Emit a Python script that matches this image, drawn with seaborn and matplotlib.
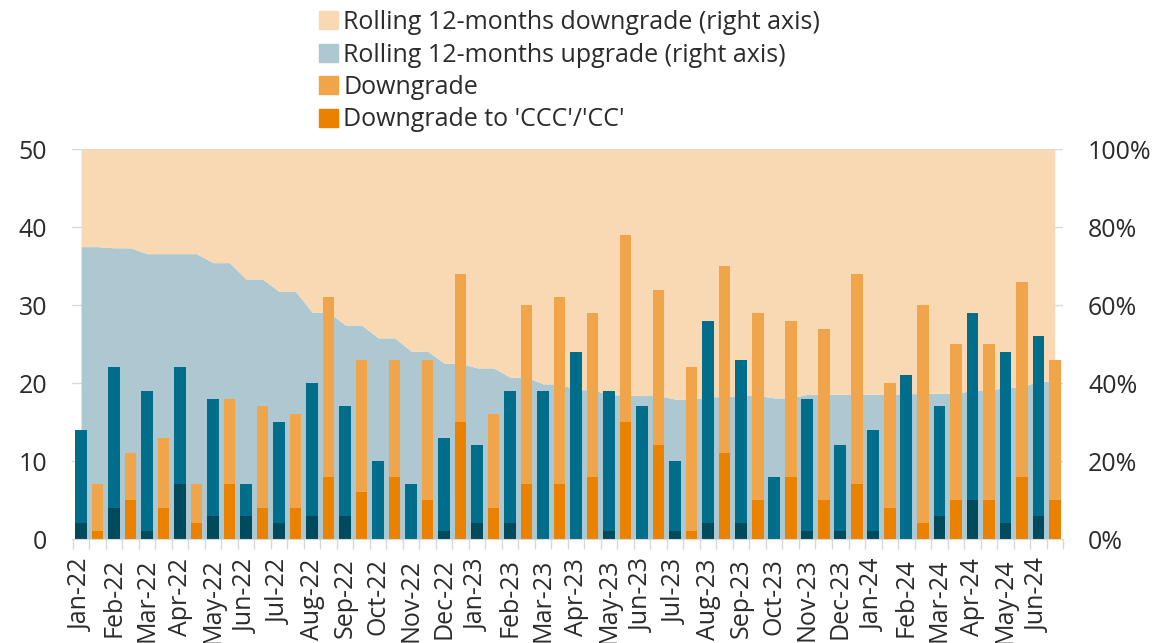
import numpy as np
import pandas as pd
import matplotlib
matplotlib.use('Agg')
import matplotlib.pyplot as plt
import matplotlib.patches as mpatches
from matplotlib.ticker import FixedLocator, FuncFormatter
import seaborn as sns

# datos mensuales
months = ['Jan-22', 'Feb-22', 'Mar-22', 'Apr-22', 'May-22', 'Jun-22', 'Jul-22', 'Aug-22',
          'Sep-22', 'Oct-22', 'Nov-22', 'Dec-22', 'Jan-23', 'Feb-23', 'Mar-23', 'Apr-23',
          'May-23', 'Jun-23', 'Jul-23', 'Aug-23', 'Sep-23', 'Oct-23', 'Nov-23', 'Dec-23',
          'Jan-24', 'Feb-24', 'Mar-24', 'Apr-24', 'May-24', 'Jun-24']
upgrade = [14, 22, 19, 22, 18, 7, 15, 20, 17, 10, 7, 13, 12, 19, 19, 24, 19, 17, 10, 28,
           23, 8, 18, 12, 14, 21, 17, 29, 24, 26]
upgrade_ccc = [2, 4, 1, 7, 3, 3, 2, 3, 3, 0, 0, 1, 2, 2, 0, 0, 1, 0, 1, 2,
               2, 0, 1, 1, 1, 0, 3, 5, 2, 3]
downgrade = [7, 11, 13, 7, 18, 17, 16, 31, 23, 23, 23, 34, 16, 30, 31, 29, 39, 32, 22, 35,
             29, 28, 27, 34, 20, 30, 25, 25, 33, 23]
downgrade_ccc = [1, 5, 4, 2, 7, 4, 4, 8, 6, 8, 5, 15, 4, 7, 7, 8, 15, 12, 1, 11,
                 5, 8, 5, 7, 4, 2, 5, 5, 8, 5]
rolling_upgrade = [75.0, 74.7, 73.2, 73.2, 70.9, 66.7, 63.5, 58.2, 54.9, 51.6, 48.2, 45.1,
                   43.9, 41.5, 39.8, 38.3, 37.0, 36.8, 35.9, 36.5, 36.8, 36.2, 37.1, 37.1,
                   37.1, 37.3, 37.4, 38.1, 39.0, 40.5]
rolling_downgrade = [100 - v for v in rolling_upgrade]

c_up = '#006E8A'
c_up_ccc = '#004A5E'
c_down = '#F0A54B'
c_down_ccc = '#EA8200'
c_area_up = '#ADC8D1'
c_area_down = '#F9D9B4'
c_text = '#2B2B2B'
c_grid = '#D9D9D9'

sns.set_style('white')
plt.rcParams['font.family'] = ['Open Sans', 'DejaVu Sans']
plt.rcParams['text.color'] = c_text

# tabla larga: dos barras por mes (upgrade, downgrade)
rows = []
for i, m in enumerate(months):
    rows.append({'slot': 2 * i, 'kind': 'Upgrade', 'total': upgrade[i], 'ccc': upgrade_ccc[i]})
    rows.append({'slot': 2 * i + 1, 'kind': 'Downgrade', 'total': downgrade[i], 'ccc': downgrade_ccc[i]})
df = pd.DataFrame(rows)

fig = plt.figure(figsize=(11.53, 6.43), dpi=100)
ax = fig.add_axes([0.0624, 0.1617, 0.922 - 0.0624, 0.768 - 0.1617])
ax2 = ax.twinx()

# áreas acumuladas en el eje derecho
x_area = np.arange(2 * len(months))
up_rep = np.repeat(rolling_upgrade, 2)
down_rep = np.repeat(rolling_downgrade, 2)
ax2.fill_between(x_area, 0, up_rep, color=c_area_up, lw=0, zorder=1)
ax2.fill_between(x_area, up_rep, up_rep + down_rep, color=c_area_down, lw=0, zorder=1)
ax2.set_ylim(0, 100)
ax2.set_axisbelow(True)
ax2.yaxis.grid(True, color=c_grid, lw=1)
ax2.set_yticks(np.arange(0, 101, 20))
ax2.yaxis.set_major_formatter(FuncFormatter(lambda v, p: f'{v:.0f}%'))
ax2.tick_params(axis='y', length=0, pad=18, labelsize=18, labelcolor=c_text)

# barras delante de las áreas
ax.set_zorder(ax2.get_zorder() + 1)
ax.patch.set_visible(False)
sns.barplot(data=df, x='slot', y='total', hue='kind', dodge=False, width=0.7,
            palette={'Upgrade': c_up, 'Downgrade': c_down}, legend=False, ax=ax,
            saturation=1, linewidth=0)
sns.barplot(data=df, x='slot', y='ccc', hue='kind', dodge=False, width=0.7,
            palette={'Upgrade': c_up_ccc, 'Downgrade': c_down_ccc}, legend=False, ax=ax,
            saturation=1, linewidth=0)
ax.set_ylim(0, 50)
ax.set_xlim(-0.55, 59.5)
ax.set_yticks(np.arange(0, 51, 10))
ax.tick_params(axis='y', length=0, pad=18, labelsize=18, labelcolor=c_text)
ax.set_xlabel('')
ax.set_ylabel('')

ax.xaxis.set_major_locator(FixedLocator(np.arange(0, 60, 2)))
ax.set_xticklabels(months, rotation=90)
ax.xaxis.set_minor_locator(FixedLocator(np.arange(-0.5, 60, 1)))
ax.tick_params(axis='x', which='major', length=0, pad=14, labelsize=18, labelcolor=c_text)
ax.tick_params(axis='x', which='minor', length=7, width=1, color=c_grid, bottom=True)

for a in (ax, ax2):
    for s in a.spines.values():
        s.set_visible(False)
ax.spines['bottom'].set_visible(True)
ax.spines['bottom'].set_color(c_grid)

handles = [
    mpatches.Patch(color=c_area_down, label='Rolling 12-months downgrade (right axis)'),
    mpatches.Patch(color=c_area_up, label='Rolling 12-months upgrade (right axis)'),
    mpatches.Patch(color=c_down, label='Downgrade'),
    mpatches.Patch(color=c_down_ccc, label="Downgrade to 'CCC'/'CC'"),
]
fig.legend(handles=handles, loc='upper left', bbox_to_anchor=(0.268, 1.0), frameon=False,
           fontsize=18, handlelength=0.75, handleheight=0.75, handletextpad=0.22,
           labelspacing=0.3, borderaxespad=0)

fig.savefig('out.png', dpi=100)
